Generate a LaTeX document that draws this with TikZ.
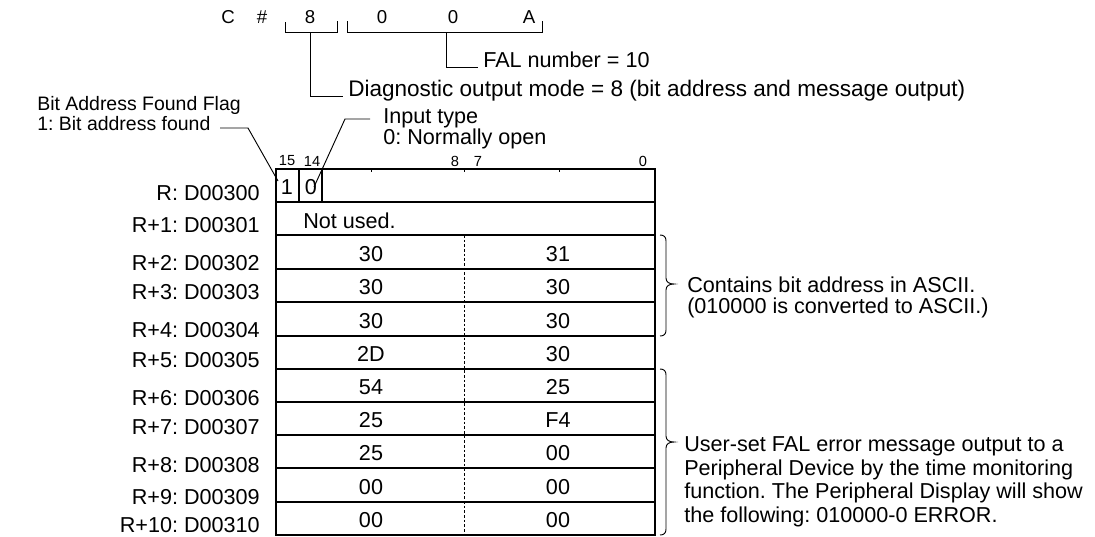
\documentclass[tikz,border=0pt]{standalone}
\usepackage{fontspec}
\setmainfont{Liberation Sans}
\frenchspacing
\begin{document}
\begin{tikzpicture}[x=0.75pt,y=-0.75pt,
  txt/.style={font=\fontsize{16.2}{16.5}\selectfont, inner sep=0pt},
  rowlbl/.style={txt, anchor=east},
  val/.style={txt},
  bitno/.style={font=\fontsize{11}{12}\selectfont, inner sep=0pt},
  code/.style={font=\fontsize{14}{15}\selectfont, inner sep=0pt},
  tbl/.style={line width=0.9pt},
  lead/.style={line width=0.7pt},
  brace/.style={line width=0.7pt},
  mid/.style={line width=0.5pt, dash pattern=on 2pt off 1.5pt}]
\useasboundingbox (0,0) rectangle (1095,536);

% ---- top code line ----
\node[code] (cC) at (228,17) {C};
\node[code] (cH) at (262,17) {\#};
\node[code] (c8) at (310,17) {8};
\node[code] (c0a) at (382,17) {0};
\node[code] (c0b) at (453,17) {0};
\node[code] (cA) at (529,17) {A};
\draw[lead] (285,22) -- (285,32) -- (337,32) -- (337,21);
\draw[lead] (347,21) -- (347,32) -- (542,32) -- (542,21);
\coordinate (br1) at (310,32);
\coordinate (br2) at (446,32);

\node[txt, anchor=west] (fal) at (483,60) {FAL number = 10};
\node[txt, anchor=west, font=\fontsize{16.9}{17}\selectfont] (diag) at (348,91) {Diagnostic output mode = 8 (bit address and message output)};
\draw[lead] (br2) |- ([xshift=-4pt]fal.base west);
\draw[lead] (br1) |- ([xshift=-4pt]diag.base west);

% ---- table ----
\draw[tbl] (276,169) rectangle (655,535);
\foreach \y in {202,235,269,302,336,369,402,435,468,502}
  \draw[tbl] (276,\y) -- (655,\y);
\draw[tbl] (299,169) -- (299,202);
\draw[tbl] (322,169) -- (322,202);
\foreach \x in {371,464,559}
  \draw[line width=0.5pt] (\x,169) -- (\x,172);
\draw[mid] (464,235) -- (464,535);

% bit numbers
\node[bitno] (b15) at (287,161) {15};
\node[bitno] (b14) at (312,161) {14};
\node[bitno] (b8) at (455,161) {8};
\node[bitno] (b7) at (478,161) {7};
\node[bitno] (b0) at (643,161) {0};

% cell contents
\node[txt] (v15) at (287,187) {1};
\node[txt] (v14) at (311,187) {0};
\node[txt, anchor=west] (nu) at (303,221) {Not used.};
\foreach \n/\c/\l/\r in {2/254/30/31, 3/287/30/30, 4/321/30/30, 5/354/2D/30,
   6/387/54/25, 7/420/25/F4, 8/453/25/00, 9/487/00/00, 10/520/00/00} {
  \node[val] (L\n) at (371,\c) {\l};
  \node[val] (R\n) at (558,\c) {\r};
}

% row labels
\node[rowlbl] (r0) at (260,193) {R: D00300};
\node[rowlbl] (r1) at (260,225) {R+1: D00301};
\node[rowlbl] (r2) at (260,263) {R+2: D00302};
\node[rowlbl] (r3) at (260,292) {R+3: D00303};
\node[rowlbl] (r4) at (260,330) {R+4: D00304};
\node[rowlbl] (r5) at (260,360) {R+5: D00305};
\node[rowlbl] (r6) at (260,398) {R+6: D00306};
\node[rowlbl] (r7) at (260,427) {R+7: D00307};
\node[rowlbl] (r8) at (260,465) {R+8: D00308};
\node[rowlbl] (r9) at (260,497) {R+9: D00309};
\node[rowlbl] (r10) at (260,525) {R+10: D00310};

% ---- annotations for bits ----
\node[txt, anchor=west, align=left, font=\fontsize{14.6}{15}\selectfont] (bflag) at (37,114)
  {Bit Address Found Flag\\1: Bit address found};
\coordinate (bfs) at (220,128);
\coordinate (bfk) at (248,128);
\coordinate (bfe) at (278,181);
\draw[lead] (bfs) -- (bfk) -- (bfe);

\node[txt, anchor=west, align=left, font=\fontsize{16.2}{14.5}\selectfont] (itype) at (383,129)
  {Input type\\0: Normally open};
\coordinate (its) at (370,119);
\coordinate (itk) at (345,119);
\coordinate (ite) at (314,187);
\draw[lead] (its) -- (itk) -- (ite);

% ---- braces ----
\draw[brace] (660,235) .. controls (664,235) and (666,237) .. (666,241) -- (666,278)
  .. controls (666,282) and (669,284) .. (674,284)
  .. controls (669,284) and (666,286) .. (666,290) -- (666,330)
  .. controls (666,334) and (664,336) .. (660,336);
\draw[brace] (660,369) .. controls (664,369) and (666,371) .. (666,375) -- (666,436)
  .. controls (666,440) and (669,442) .. (674,442)
  .. controls (669,442) and (666,444) .. (666,448) -- (666,529)
  .. controls (666,533) and (664,535) .. (660,535);

\node[txt, anchor=west, align=left, font=\fontsize{16.2}{15.75}\selectfont] (ascii) at (687,297)
  {Contains bit address in ASCII.\\(010000 is converted to ASCII.)};
\node[txt, anchor=west, align=left, font=\fontsize{16.2}{17.6}\selectfont] (msg) at (684,482)
  {User-set FAL error message output to a\\Peripheral Device by the time monitoring\\function. The Peripheral Display will show\\the following: 010000-0 ERROR.};
\end{tikzpicture}
\end{document}
